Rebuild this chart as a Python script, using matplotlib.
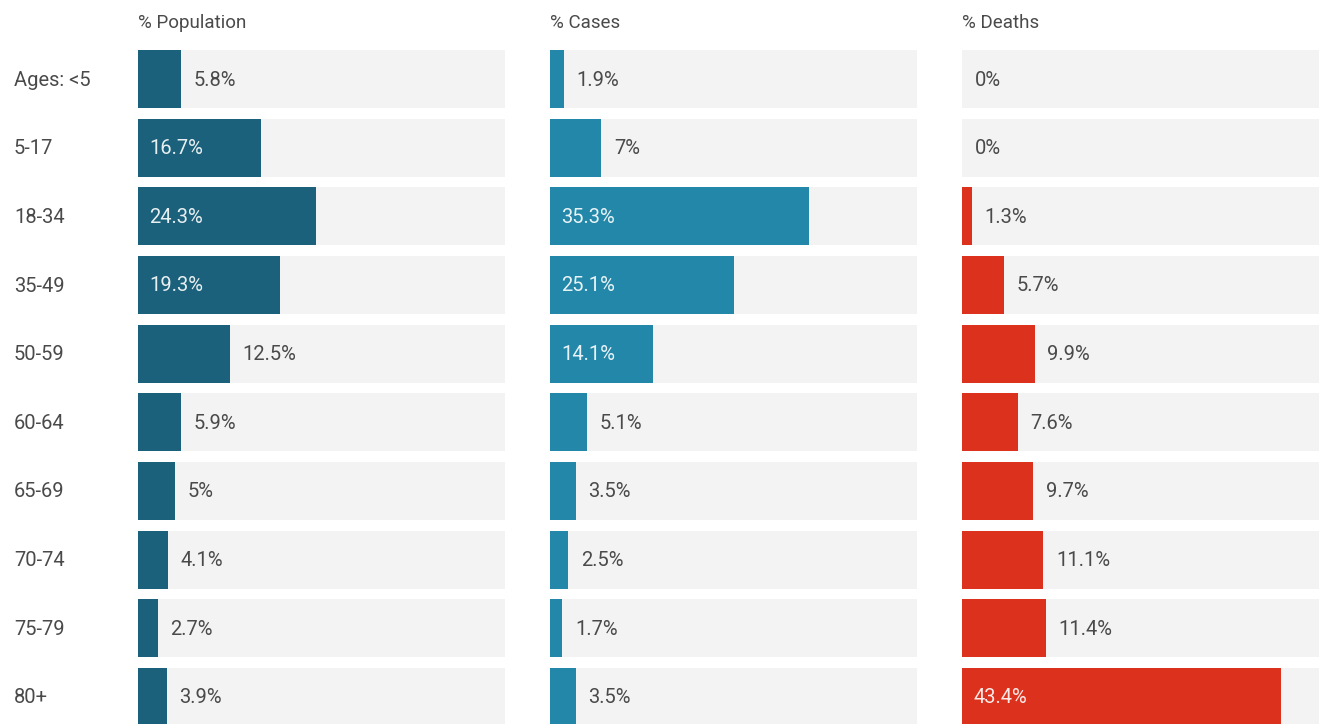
# plot.py
# Age breakdown of population, cases and deaths, saved as out.png

import matplotlib
matplotlib.use("Agg")
import matplotlib.pyplot as plt

ages = ["Ages: <5", "5-17", "18-34", "35-49", "50-59",
        "60-64", "65-69", "70-74", "75-79", "80+"]
population = [5.8, 16.7, 24.3, 19.3, 12.5, 5.9, 5.0, 4.1, 2.7, 3.9]
cases = [1.9, 7.0, 35.3, 25.1, 14.1, 5.1, 3.5, 2.5, 1.7, 3.5]
deaths = [0.0, 0.0, 1.3, 5.7, 9.9, 7.6, 9.7, 11.1, 11.4, 43.4]

titles = ["% Population", "% Cases", "% Deaths"]
colors = ["#1b617b", "#2287a9", "#dc321d"]


def fmt(v):
    s = "%.1f" % v
    if s.endswith(".0"):
        s = s[:-2]
    return s + "%"


def PlotAges():
    plt.rcParams["font.family"] = ["Roboto", "DejaVu Sans"]
    fig = plt.figure(figsize=(13.19, 7.24), dpi=100)

    W, H = 1319.0, 724.0
    lefts = [138, 550, 962]
    width = 367
    top_px, bot_px = 44.7, 731.3
    n = len(ages)
    ypos = list(range(n))

    for k, vals in enumerate([population, cases, deaths]):
        ax = fig.add_axes([lefts[k] / W, 1 - bot_px / H,
                           width / W, (bot_px - top_px) / H])
        ax.barh(ypos, [50] * n, height=0.845, color="#f3f3f3", left=0)
        ax.barh(ypos, vals, height=0.845, color=colors[k], left=0)
        for i, v in enumerate(vals):
            if v >= 14:
                ax.annotate(fmt(v), (0, i), xytext=(8, -0.7),
                            textcoords="offset points", va="center",
                            ha="left", color="white", fontsize=14.5,
                            alpha=0.9)
            else:
                ax.annotate(fmt(v), (v, i), xytext=(9, -0.7),
                            textcoords="offset points", va="center",
                            ha="left", color="#4a4a4a", fontsize=14.5)
        ax.set_xlim(0, 50)
        ax.set_ylim(n - 0.5, -0.5)
        ax.axis("off")
        fig.text(lefts[k] / W, 1 - 23 / H, titles[k], ha="left",
                 va="center", fontsize=13.5, color="#4a4a4a")

    for i, a in enumerate(ages):
        yc = top_px + (i + 0.5) * (bot_px - top_px) / n
        fig.text(14 / W, 1 - (yc + 1) / H, a, ha="left", va="center",
                 fontsize=14.5, color="#4a4a4a")

    fig.savefig("out.png", dpi=100)


if __name__ == "__main__":
    PlotAges()
